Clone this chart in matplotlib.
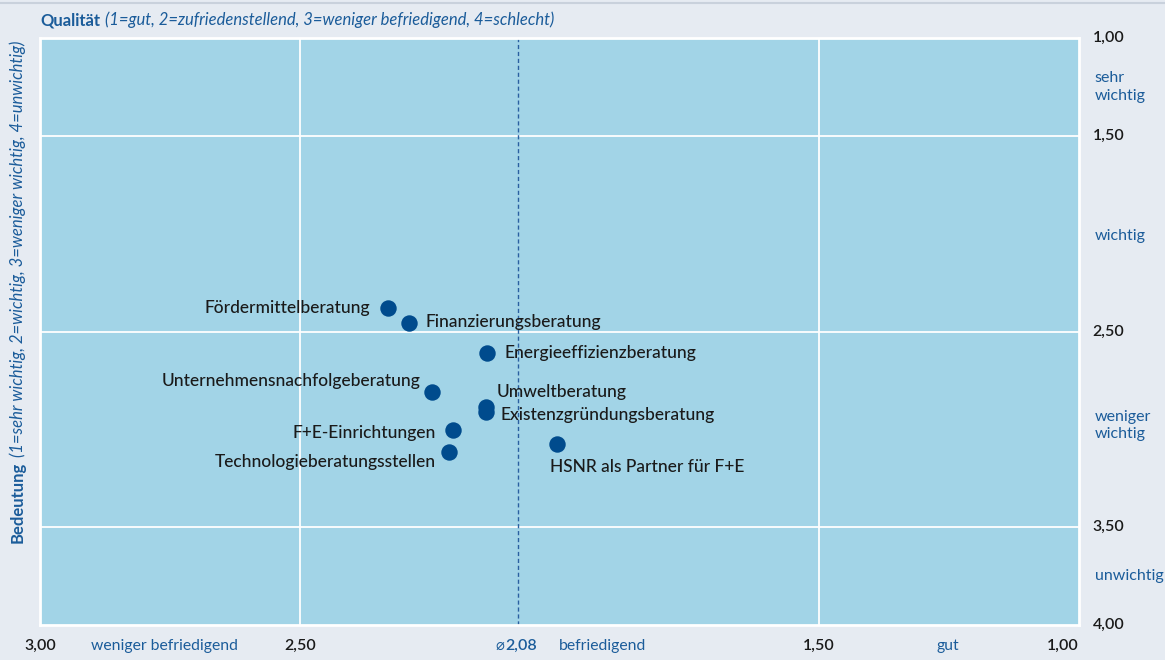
#!/usr/bin/env python3
# -*- coding=utf-8 -*-
from matplotlib import pyplot as plt
from matplotlib.lines import Line2D

plt.rcParams['font.family'] = ['Lato', 'DejaVu Sans']

# Daten: Qualität (x) und Bedeutung (y)
namen = ['Fördermittelberatung', 'Finanzierungsberatung', 'Energieeffizienzberatung',
         'Unternehmensnachfolgeberatung', 'Umweltberatung', 'Existenzgründungsberatung',
         'F+E-Einrichtungen', 'Technologieberatungsstellen', 'HSNR als Partner für F+E']
qualitaet = [2.33, 2.29, 2.14, 2.245, 2.141, 2.141, 2.205, 2.213, 2.005]
bedeutung = [2.38, 2.456, 2.61, 2.81, 2.884, 2.91, 3.003, 3.117, 3.075]
mittel_qualitaet = 2.08

# Beschriftungs-Versatz in Pixeln (dx, dy, ausrichtung)
versatz = [(-18, 0, 'right'), (17, 1, 'left'), (18, 0, 'left'),
           (-12, 11, 'right'), (10, 15, 'left'), (14, -3, 'left'),
           (-17, -3, 'right'), (-13, -10, 'right'), (-7, -23, 'left')]

blau = '#1b5c9a'
punkt = '#004b8d'
text_dunkel = '#1a1a1a'

fig = plt.figure(figsize=(11.65, 6.6), dpi=100)
fig.patch.set_facecolor('#e6ebf2')
ax = fig.add_axes([40 / 1165, 35 / 660, 1039 / 1165, 587 / 660])
ax.set_facecolor('#a2d4e7')

ax.set_xlim(3.0, 1.0)
ax.set_ylim(4.0, 1.0)
for s in ax.spines.values():
    s.set_color('white')
    s.set_linewidth(2)
ax.set_xticks([])
ax.set_yticks([])

# Gitterlinien
for gx in [2.5, 1.5]:
    ax.axvline(gx, color='white', lw=1.3, zorder=1)
for gy in [1.5, 2.5, 3.5]:
    ax.axhline(gy, color='white', lw=1.3, zorder=1)
ax.axvline(mittel_qualitaet, color='#2a5fa0', lw=1, ls=(0, (3, 2)), zorder=1)

# Punkte
ax.scatter(qualitaet, bedeutung, s=140, color=punkt, zorder=3, linewidths=0)
for n, x, y, (dx, dy, ha) in zip(namen, qualitaet, bedeutung, versatz):
    ax.annotate(n, (x, y), xytext=(dx, dy), textcoords='offset pixels',
                ha=ha, va='center', fontsize=12.5, fontweight='medium',
                color=text_dunkel, zorder=4)

# x-Achse unten
xtr = ax.get_xaxis_transform()
for xv, t, ha in [(3.0, '3,00', 'center'), (2.5, '2,50', 'center'),
                  (1.5, '1,50', 'center'), (1.0, '1,00', 'right')]:
    ax.text(xv, -0.035, t, transform=xtr, ha=ha, va='center', fontsize=11.5,
            fontweight='semibold', color=text_dunkel, clip_on=False)
ax.text(2.105, -0.035, '2,08', transform=xtr, ha='left', va='center',
        fontsize=11.5, fontweight='semibold', color=blau, clip_on=False)
ax.text(2.107, -0.035, '\u2300', transform=xtr, ha='right', va='center',
        fontsize=10.5, family='DejaVu Sans', color=blau, clip_on=False)
for xv, t in [(2.76, 'weniger befriedigend'), (1.918, 'befriedigend'), (1.252, 'gut')]:
    ax.text(xv, -0.035, t, transform=xtr, ha='center', va='center', fontsize=11.3,
            color=blau, clip_on=False)

# y-Achse rechts
ytr = ax.get_yaxis_transform()
for yv, t in [(1.0, '1,00'), (1.5, '1,50'), (2.5, '2,50'), (3.5, '3,50'), (4.0, '4,00')]:
    ax.text(1.013, yv, t, transform=ytr, ha='left', va='center', fontsize=11.5,
            fontweight='semibold', color=text_dunkel, clip_on=False)
for yv, t in [(1.25, 'sehr\nwichtig'), (2.01, 'wichtig'),
              (2.98, 'weniger\nwichtig'), (3.75, 'unwichtig')]:
    ax.text(1.015, yv, t, transform=ytr, ha='left', va='center', fontsize=11.5,
            color=blau, linespacing=1.3, clip_on=False)

# Titel oben
t1 = fig.text(40 / 1165, 1 - 20 / 660, 'Qualität', ha='left', va='center',
              fontsize=12, fontweight='bold', color=blau)
fig.canvas.draw()
ax.annotate('(1=gut, 2=zufriedenstellend, 3=weniger befriedigend, 4=schlecht)',
            xy=(1, 0.5), xycoords=t1, xytext=(5, 0), textcoords='offset pixels',
            ha='left', va='center', fontsize=12, style='italic', color=blau,
            annotation_clip=False)

# Titel links (gedreht)
t2 = fig.text(18 / 1165, (660 - 543) / 660, 'Bedeutung', rotation=90,
              ha='center', va='bottom', fontsize=12, fontweight='bold', color=blau)
ax.annotate('(1=sehr wichtig, 2=wichtig, 3=weniger wichtig, 4=unwichtig)',
            xy=(0.5, 1), xycoords=t2, xytext=(0, 5), textcoords='offset pixels',
            rotation=90, ha='center', va='bottom', fontsize=12, style='italic',
            color=blau, annotation_clip=False)

fig.add_artist(Line2D([0, 1], [1 - 2.5 / 660] * 2, color='#c9d1dc', lw=1.5))

plt.savefig('out.png', dpi=100, facecolor=fig.get_facecolor())
